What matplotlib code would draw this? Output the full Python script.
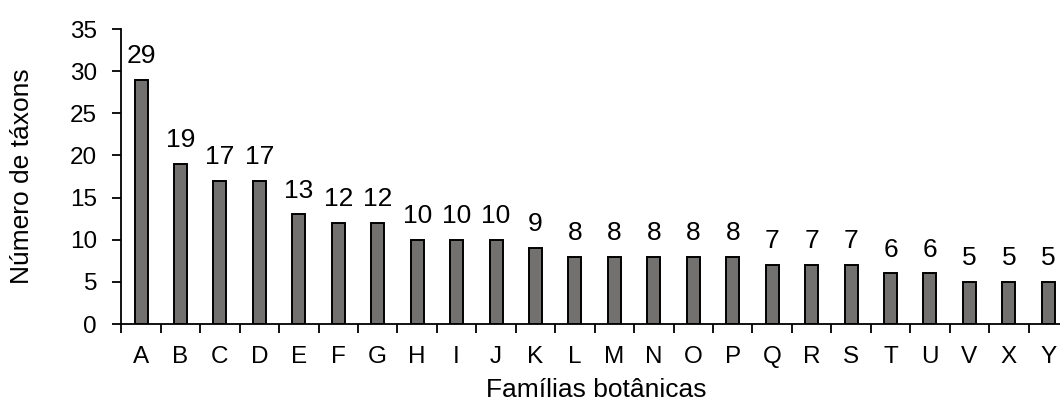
import numpy as np
import matplotlib.pyplot as plt

plt.rcParams['font.family'] = ['Liberation Sans', 'DejaVu Sans']

familias = ['A', 'B', 'C', 'D', 'E', 'F', 'G', 'H', 'I', 'J', 'K', 'L',
            'M', 'N', 'O', 'P', 'Q', 'R', 'S', 'T', 'U', 'V', 'X', 'Y']
taxons = [29, 19, 17, 17, 13, 12, 12, 10, 10, 10, 9, 8,
          8, 8, 8, 8, 7, 7, 7, 6, 6, 5, 5, 5]

fig = plt.figure(figsize=(10.6, 4.03), dpi=100)
ax = fig.add_axes([0.1145, 0.196, 0.893, 0.732])

x = np.arange(len(familias))
ax.bar(x, taxons, width=0.33, color='#737070', edgecolor='black', linewidth=1.4)

for xi, v in zip(x, taxons):
    ax.text(xi, v + 1.4, str(v), ha='center', va='bottom', fontsize=19)

ax.set_xlim(-0.5, len(familias) - 0.5)
ax.set_ylim(0, 35)
ax.set_yticks(np.arange(0, 36, 5))
ax.tick_params(axis='y', labelsize=17.5, length=6.5, width=1.3, direction='out', pad=11)

# tick marks between categories, labels centred under bars
ax.set_xticks(np.arange(-0.5, len(familias), 1.0))
ax.set_xticklabels([])
ax.set_xticks(x, minor=True)
ax.set_xticklabels(familias, minor=True)
ax.tick_params(axis='x', which='major', length=6.5, width=1.3, direction='out')
ax.tick_params(axis='x', which='minor', length=0, labelsize=17.5, pad=16)

for s in ['top', 'right']:
    ax.spines[s].set_visible(False)
for s in ['left', 'bottom']:
    ax.spines[s].set_linewidth(1.3)

ax.set_xlabel('Famílias botânicas', fontsize=19, va='center')
ax.set_ylabel('Número de táxons', fontsize=19, va='center')
ax.xaxis.set_label_coords(0.502, -0.225)
ax.yaxis.set_label_coords(-0.1046, 0.5)

fig.savefig('out.png', dpi=100)
